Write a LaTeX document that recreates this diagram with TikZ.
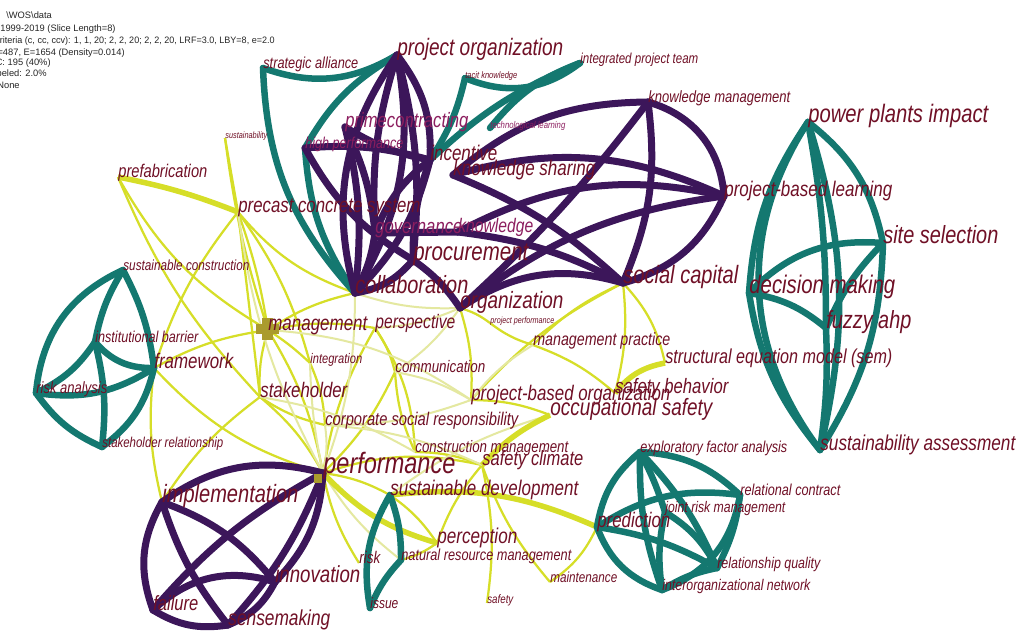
\documentclass[tikz,border=0pt]{standalone}
\usepackage{fontspec}
\usepackage{graphicx}
\newfontfamily\kwfont{Liberation Sans}[FakeStretch=0.8]
\newfontfamily\hdrfont{Liberation Sans}
\newlength{\kwpx}
\setlength{\kwpx}{0.2mm}
% keyword label squeezed to a given width (in px)
\newcommand{\kw}[2]{\resizebox{#1\kwpx}{!}{\kwfont\itshape #2}}

\definecolor{lblred}{RGB}{112,16,38}
\definecolor{lblpink}{RGB}{140,30,95}
\definecolor{tealcol}{RGB}{20,120,112}
\definecolor{purpcol}{RGB}{60,22,90}
\definecolor{yelcol}{RGB}{214,222,40}
\definecolor{yellight}{RGB}{228,232,160}
\definecolor{olivecol}{RGB}{170,155,45}

\begin{document}
\begin{tikzpicture}[x=0.2mm, y=-0.2mm,
    kw/.style={anchor=base west, inner sep=0pt, text=lblred},
    hdr/.style={inner sep=0pt, text=black!85, font=\hdrfont\fontsize{5.3}{6}\selectfont},
    tealedge/.style={draw=tealcol, line width=1.3mm, line cap=round},
    purpedge/.style={draw=purpcol, line width=1.4mm, line cap=round},
    yeledge/.style={draw=yelcol, line width=0.45mm},
    yelthick/.style={draw=yelcol, line width=1.1mm},
    yelfaint/.style={draw=yellight, line width=0.4mm}]
    \useasboundingbox (0,0) rectangle (1020,634);
    \fill[white] (0,0) rectangle (1020,634);

    % keyword positions
    \coordinate (po) at (397,55);
    \coordinate (sa) at (263,68);
    \coordinate (pc) at (345,127);
    \coordinate (hp) at (305,148);
    \coordinate (inc) at (430,160);
    \coordinate (sus) at (225,138);
    \coordinate (tk) at (465,78);
    \coordinate (tl) at (490,128);
    \coordinate (ipt) at (580,63);
    \coordinate (km) at (648,102);
    \coordinate (ppi) at (808,122);
    \coordinate (pbl) at (724,196);
    \coordinate (ks) at (453,175);
    \coordinate (pf) at (118,177);
    \coordinate (pcs) at (238,212);
    \coordinate (gov) at (375,233);
    \coordinate (kn) at (458,232);
    \coordinate (proc) at (413,260);
    \coordinate (col) at (355,293);
    \coordinate (org) at (460,308);
    \coordinate (scap) at (623,283);
    \coordinate (ppf) at (490,323);
    \coordinate (ss) at (883,243);
    \coordinate (dm) at (749,293);
    \coordinate (fa) at (826,328);
    \coordinate (sem) at (665,363);
    \coordinate (sas) at (820,450);
    \coordinate (sc) at (123,270);
    \coordinate (ib) at (95,342);
    \coordinate (mg) at (268,330);
    \coordinate (per) at (375,328);
    \coordinate (int) at (310,363);
    \coordinate (fw) at (154,368);
    \coordinate (ra) at (36,393);
    \coordinate (sh) at (260,397);
    \coordinate (com) at (395,372);
    \coordinate (mp) at (533,345);
    \coordinate (pbo) at (471,400);
    \coordinate (sb) at (615,393);
    \coordinate (os) at (550,415);
    \coordinate (csr) at (325,425);
    \coordinate (shr) at (102,447);
    \coordinate (cm) at (415,452);
    \coordinate (scl) at (482,465);
    \coordinate (perf) at (323,473);
    \coordinate (efa) at (640,452);
    \coordinate (imp) at (162,502);
    \coordinate (sd) at (390,495);
    \coordinate (rc) at (740,495);
    \coordinate (jrm) at (665,512);
    \coordinate (pred) at (597,527);
    \coordinate (pcp) at (437,543);
    \coordinate (risk) at (359,563);
    \coordinate (nrm) at (401,560);
    \coordinate (inn) at (275,582);
    \coordinate (mnt) at (550,582);
    \coordinate (rq) at (717,568);
    \coordinate (ion) at (662,590);
    \coordinate (fail) at (153,610);
    \coordinate (sm) at (228,625);
    \coordinate (iss) at (370,608);
    \coordinate (saf) at (487,603);

    % yellow links
    \foreach \a/\b/\bend in {pf/mg/-15, pf/sh/-10, sus/pcs/0, sus/mg/-5,
        pcs/fw/-10, pcs/mg/5, pcs/sh/0, pcs/col/-15, pcs/int/10,
        mg/fw/-10, mg/col/10, mg/per/10, mg/sh/-10, mg/int/5, mg/perf/10,
        fw/imp/-10, fw/perf/-15, sh/csr/-10, sh/perf/10, sh/imp/-10,
        per/perf/-10, per/com/10, per/cm/15, int/csr/10, com/cm/-10,
        com/perf/10, org/ppf/10, org/pbo/10, scap/mp/-10, scap/sb/10,
        scap/pbo/-10, scap/sem/15, mp/sb/10, pbo/os/10, cm/scl/10,
        scl/pcp/-10, scl/saf/10, scl/mnt/-10, perf/sd/10, perf/scl/15,
        sd/pcp/10, pcp/nrm/10, pred/mnt/15, perf/risk/-10, ppf/mp/-10}
        \draw[yeledge] (\a) to[bend left=\bend] (\b);
    \foreach \a/\b/\bend in {pbo/csr/10, csr/perf/10, mg/pbo/15, col/org/-10, perf/nrm/-10,
        com/pbo/10, per/org/-10, col/perf/10, int/perf/-5, sh/cm/10,
        csr/scl/10, mp/pbo/-10, os/sd/-10, org/com/10, pcs/perf/-10}
        \draw[yelfaint] (\a) to[bend left=\bend] (\b);
    \foreach \a/\b/\bend in {pf/pcs/5, sem/sb/-20, os/scl/-10, sd/pred/15, perf/pcp/-15}
        \draw[yelthick] (\a) to[bend left=\bend] (\b);

    % teal clusters
    \foreach \a/\b/\bend in {sa/po/-25, sa/col/-20, po/hp/-15, hp/col/-15,
        tk/ipt/-30, tk/inc/10, ipt/tl/-15, ipt/inc/-10,
        ppi/sas/-35, ppi/sas/15, ppi/ss/20, ppi/fa/5, ppi/dm/-15,
        ss/dm/-25, ss/fa/-10, ss/sas/15, dm/fa/15, dm/sas/-15, fa/sas/5,
        sc/ra/-30, sc/ib/-10, sc/fw/10, ib/fw/-25, ib/shr/10, ra/fw/-20,
        ra/shr/-15, fw/shr/20, ib/ra/15,
        sd/iss/-20, sd/nrm/10, nrm/iss/-10,
        efa/rc/20, efa/pred/-20, efa/rq/10, efa/jrm/5, pred/rc/20,
        pred/ion/-25, pred/rq/10, rc/ion/30, rc/rq/10, jrm/rq/15,
        jrm/ion/-10, rq/ion/-10, efa/ion/-10}
        \draw[tealedge] (\a) to[bend left=\bend] (\b);

    % purple clusters
    \foreach \a/\b/\bend in {po/col/-25, po/col/20, po/proc/10, po/gov/-10,
        po/inc/20, pc/col/10, pc/inc/-10, inc/col/15, inc/proc/-10,
        hp/inc/10, hp/proc/-15, gov/col/10, gov/inc/15, col/proc/-20,
        pc/gov/10, gov/kn/0, proc/org/10,
        ks/km/20, ks/pbl/20, km/pbl/35, km/org/5, km/scap/15, kn/pbl/20,
        kn/scap/10, org/pbl/15, org/scap/25, scap/pbl/-25, ks/scap/10,
        imp/perf/25, imp/inn/15, imp/sm/-10, imp/fail/-25, perf/inn/20,
        perf/fail/-10, fail/inn/30, fail/sm/-20, sm/inn/-20, perf/sm/10}
        \draw[purpedge] (\a) to[bend left=\bend] (\b);

    % node marks
    \fill[olivecol] (262,318) rectangle (273,340);
    \fill[olivecol] (256,324) rectangle (279,334);
    \fill[olivecol] (314,474) rectangle (322,483);

    % header text
    \node[hdr, anchor=base west] (h1) at (6,18) {\textbackslash WOS\textbackslash data};
    \node[hdr, anchor=base west] (h2) at (0,31) {1999-2019 (Slice Length=8)};
    \node[hdr, anchor=base east] (h3) at (275,43) {\scalebox{0.97}[1]{Criteria (c, cc, ccv): 1, 1, 20; 2, 2, 20; 2, 2, 20, LRF=3.0, LBY=8, e=2.0}};
    \node[hdr, anchor=base east] (h4) at (125,55) {N=487, E=1654 (Density=0.014)};
    \node[hdr, anchor=base east] (h5) at (51,65) {LargestCC: 195 (40\%)};
    \node[hdr, anchor=base east] (h6) at (47,76) {Nodes Labeled: 2.0\%};
    \node[hdr, anchor=base east] (h7) at (20,88) {Pruning: None};

    % keyword labels
    \node[kw] (po-l) at (po) {\kw{166}{project organization}};
    \node[kw] (sa-l) at (sa) {\kw{95}{strategic alliance}};
    \node[kw, text=lblpink] (pc-l) at (pc) {\kw{123}{primecontracting}};
    \node[kw, text=lblpink] (hp-l) at (hp) {\kw{98}{high performance}};
    \node[kw] (inc-l) at (inc) {\kw{67}{incentive}};
    \node[kw] (sus-l) at (sus) {\kw{42}{sustainability}};
    \node[kw] (tk-l) at (tk) {\kw{52}{tacit knowledge}};
    \node[kw, text=lblpink] (tl-l) at (tl) {\kw{75}{technological learning}};
    \node[kw] (ipt-l) at (ipt) {\kw{118}{integrated project team}};
    \node[kw] (km-l) at (km) {\kw{142}{knowledge management}};
    \node[kw] (ppi-l) at (ppi) {\kw{180}{power plants impact}};
    \node[kw] (pbl-l) at (pbl) {\kw{168}{project-based learning}};
    \node[kw] (ks-l) at (ks) {\kw{142}{knowledge sharing}};
    \node[kw] (pf-l) at (pf) {\kw{89}{prefabrication}};
    \node[kw] (pcs-l) at (pcs) {\kw{182}{precast concrete system}};
    \node[kw, text=lblpink] (gov-l) at (gov) {\kw{87}{governance}};
    \node[kw, text=lblpink] (kn-l) at (kn) {\kw{75}{knowledge}};
    \node[kw] (proc-l) at (proc) {\kw{115}{procurement}};
    \node[kw] (col-l) at (col) {\kw{113}{collaboration}};
    \node[kw] (org-l) at (org) {\kw{103}{organization}};
    \node[kw] (scap-l) at (scap) {\kw{115}{social capital}};
    \node[kw] (ppf-l) at (ppf) {\kw{64}{project performance}};
    \node[kw] (ss-l) at (ss) {\kw{115}{site selection}};
    \node[kw] (dm-l) at (dm) {\kw{146}{decision making}};
    \node[kw] (fa-l) at (fa) {\kw{85}{fuzzy ahp}};
    \node[kw] (sem-l) at (sem) {\kw{227}{structural equation model (sem)}};
    \node[kw] (sas-l) at (sas) {\kw{195}{sustainability assessment}};
    \node[kw] (sc-l) at (sc) {\kw{126}{sustainable construction}};
    \node[kw] (ib-l) at (ib) {\kw{103}{institutional barrier}};
    \node[kw] (mg-l) at (mg) {\kw{99}{management}};
    \node[kw] (per-l) at (per) {\kw{80}{perspective}};
    \node[kw] (int-l) at (int) {\kw{52}{integration}};
    \node[kw] (fw-l) at (fw) {\kw{79}{framework}};
    \node[kw] (ra-l) at (ra) {\kw{71}{risk analysis}};
    \node[kw] (sh-l) at (sh) {\kw{87}{stakeholder}};
    \node[kw] (com-l) at (com) {\kw{90}{communication}};
    \node[kw] (mp-l) at (mp) {\kw{137}{management practice}};
    \node[kw] (pbo-l) at (pbo) {\kw{199}{project-based organization}};
    \node[kw] (sb-l) at (sb) {\kw{113}{safety behavior}};
    \node[kw] (os-l) at (os) {\kw{162}{occupational safety}};
    \node[kw] (csr-l) at (csr) {\kw{193}{corporate social responsibility}};
    \node[kw] (shr-l) at (shr) {\kw{121}{stakeholder relationship}};
    \node[kw] (cm-l) at (cm) {\kw{153}{construction management}};
    \node[kw] (scl-l) at (scl) {\kw{101}{safety climate}};
    \node[kw] (perf-l) at (perf) {\kw{132}{performance}};
    \node[kw] (efa-l) at (efa) {\kw{147}{exploratory factor analysis}};
    \node[kw] (imp-l) at (imp) {\kw{136}{implementation}};
    \node[kw] (sd-l) at (sd) {\kw{188}{sustainable development}};
    \node[kw] (rc-l) at (rc) {\kw{100}{relational contract}};
    \node[kw] (jrm-l) at (jrm) {\kw{120}{joint risk management}};
    \node[kw] (pred-l) at (pred) {\kw{73}{prediction}};
    \node[kw] (pcp-l) at (pcp) {\kw{80}{perception}};
    \node[kw] (risk-l) at (risk) {\kw{21}{risk}};
    \node[kw] (nrm-l) at (nrm) {\kw{170}{natural resource management}};
    \node[kw] (inn-l) at (inn) {\kw{85}{innovation}};
    \node[kw] (mnt-l) at (mnt) {\kw{67}{maintenance}};
    \node[kw] (rq-l) at (rq) {\kw{103}{relationship quality}};
    \node[kw] (ion-l) at (ion) {\kw{148}{interorganizational network}};
    \node[kw] (fail-l) at (fail) {\kw{45}{failure}};
    \node[kw] (sm-l) at (sm) {\kw{102}{sensemaking}};
    \node[kw] (iss-l) at (iss) {\kw{28}{issue}};
    \node[kw] (saf-l) at (saf) {\kw{26}{safety}};
\end{tikzpicture}
\end{document}
